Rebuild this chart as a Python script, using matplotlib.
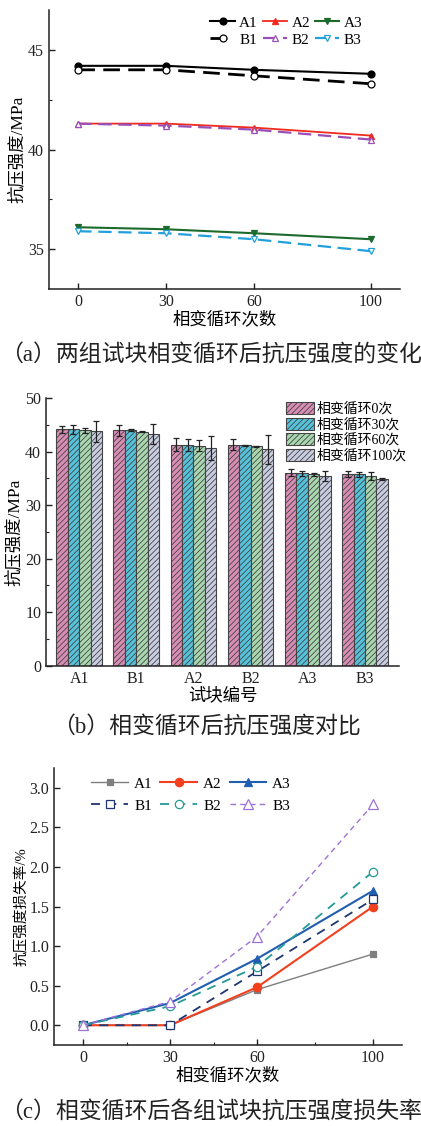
import numpy as np
import matplotlib
matplotlib.use("Agg")
import matplotlib.pyplot as plt
from matplotlib.ticker import MultipleLocator, FixedLocator, FormatStrFormatter

plt.rcParams['font.family'] = ['Liberation Serif', 'Noto Sans CJK SC']
plt.rcParams['axes.unicode_minus'] = False
plt.rcParams['hatch.linewidth'] = 0.6
plt.rcParams['hatch.color'] = '#3a3a3a'

# --- DATA ---
cycles = [0, 30, 60, 100]
groups = ['A1', 'B1', 'A2', 'B2', 'A3', 'B3']

# compressive strength (MPa) after 0/30/60/100 phase-change cycles
strength = {
    'A1': [44.2, 44.2, 44.0, 43.8],
    'B1': [44.0, 44.0, 43.7, 43.3],
    'A2': [41.3, 41.3, 41.1, 40.7],
    'B2': [41.3, 41.2, 41.0, 40.5],
    'A3': [36.1, 36.0, 35.8, 35.5],
    'B3': [35.9, 35.8, 35.5, 34.9],
}
# standard deviation for bar chart
strength_err = {
    'A1': [0.7, 0.85, 0.45, 2.0],
    'B1': [1.0, 0.2, 0.1, 1.8],
    'A2': [1.25, 1.1, 1.05, 2.2],
    'B2': [1.0, 0.1, 0.1, 2.7],
    'A3': [0.7, 0.45, 0.3, 0.95],
    'B3': [0.55, 0.5, 0.75, 0.15],
}
# strength loss rate (%)
loss = {
    'A1': [0.0, 0.0, 0.45, 0.90],
    'A2': [0.0, 0.0, 0.48, 1.50],
    'A3': [0.0, 0.28, 0.84, 1.70],
    'B1': [0.0, 0.0, 0.68, 1.59],
    'B2': [0.0, 0.24, 0.74, 1.94],
    'B3': [0.0, 0.30, 1.12, 2.79],
}
bar_labels = ['相变循环0次', '相变循环30次', '相变循环60次', '相变循环100次']

# legend fills column by column, so interleave A/B to get rows A1 A2 A3 / B1 B2 B3
legend_order = ['A1', 'B1', 'A2', 'B2', 'A3', 'B3']

fig = plt.figure(figsize=(4.21, 11.26), dpi=100)


def style_axes(ax):
    ax.spines['top'].set_visible(False)
    ax.spines['right'].set_visible(False)
    for s in ('left', 'bottom'):
        ax.spines[s].set_linewidth(1.1)
        ax.spines[s].set_color('#222222')
    ax.tick_params(which='both', direction='in', colors='#222222')
    ax.tick_params(which='major', length=4, width=1.0)
    ax.tick_params(which='minor', length=2.5, width=0.8)


# --- (a) strength vs cycles ---
ax1 = fig.add_axes([0.1164, 0.7433, 0.834, 0.2478])
style_a = {
    'A1': dict(color='black', ls='-', marker='o', mfc='black', ms=5, lw=1.5),
    'A2': dict(color='#f02a1e', ls='-', marker='^', mfc='#f02a1e', ms=5, lw=1.3),
    'A3': dict(color='#1d6b2c', ls='-', marker='v', mfc='#1d6b2c', ms=5, lw=1.5),
    'B1': dict(color='black', ls=(0, (6, 3)), marker='o', mfc='white', ms=5, lw=2.0),
    'B2': dict(color='#9a4fb8', ls=(0, (6, 3)), marker='^', mfc='white', ms=5, lw=1.6),
    'B3': dict(color='#22a0db', ls=(0, (6, 3)), marker='v', mfc='white', ms=5, lw=1.6),
}
lines_a = {}
for g in ['A1', 'A2', 'A3', 'B1', 'B2', 'B3']:
    st = style_a[g]
    lines_a[g], = ax1.plot(cycles, strength[g], label=g, mew=0.9,
                           mec=st['color'], **st)
ax1.set_xlim(-10, 110)
ax1.set_ylim(33, 47)
ax1.set_xticks(cycles)
ax1.yaxis.set_major_locator(FixedLocator([35, 40, 45]))
ax1.yaxis.set_minor_locator(FixedLocator([37.5, 42.5]))
style_axes(ax1)
ax1.tick_params(labelsize=11.5)
ax1.set_xlabel('相变循环次数', fontsize=12.5, labelpad=1)
ax1.set_ylabel('抗压强度/MPa', fontsize=12.5)
ax1.yaxis.set_label_coords(-0.066, 0.5)
ax1.legend([lines_a[g] for g in legend_order], legend_order, ncol=3,
           loc='upper right', bbox_to_anchor=(0.91, 1.0), frameon=False,
           fontsize=11, handlelength=1.6, handletextpad=0.3,
           columnspacing=0.3, labelspacing=0.2, borderaxespad=0.0)
fig.text(0.5, 0.6847, '（a）两组试块相变循环后抗压强度的变化', ha='center',
         va='center', fontsize=16.5, color='#222222')

# --- (b) bar comparison ---
ax2 = fig.add_axes([0.1093, 0.4088, 0.839, 0.2375])
bar_colors = ['#d98db5', '#55c3dc', '#a9d8b0', '#c9cde2']
x = np.arange(len(groups))
w = 0.2
for i in range(4):
    vals = [strength[g][i] for g in groups]
    errs = [strength_err[g][i] for g in groups]
    ax2.bar(x + (i - 1.5) * w, vals, w, yerr=errs, color=bar_colors[i],
            edgecolor='#444444', linewidth=0.8, hatch='//////',
            error_kw=dict(ecolor='#222222', elinewidth=0.9, capsize=2.5,
                          capthick=0.9),
            label=bar_labels[i])
ax2.set_xlim(-0.58, 5.6)
ax2.set_ylim(0, 50)
ax2.set_xticks(x)
ax2.set_xticklabels(groups)
ax2.yaxis.set_major_locator(MultipleLocator(10))
ax2.yaxis.set_minor_locator(MultipleLocator(5))
style_axes(ax2)
ax2.tick_params(axis='x', which='major', length=0)
ax2.tick_params(labelsize=11.5)
ax2.set_xlabel('试块编号', fontsize=12.5, labelpad=1)
ax2.set_ylabel('抗压强度/MPa', fontsize=12.5)
ax2.yaxis.set_label_coords(-0.065, 0.5)
ax2.legend(loc='upper left', bbox_to_anchor=(0.68, 0.985), frameon=False,
           fontsize=10, handlelength=2.0, handleheight=0.95,
           handletextpad=0.2, labelspacing=0.12, borderaxespad=0.0,
           borderpad=0.0)
fig.text(0.49, 0.3535, '（b）相变循环后抗压强度对比', ha='center',
         va='center', fontsize=16.5, color='#222222')

# --- (c) loss rate ---
ax3 = fig.add_axes([0.1283, 0.0719, 0.8266, 0.246])
style_c = {
    'A1': dict(color='#7f7f7f', ls='-', marker='s', mfc='#7f7f7f', ms=5, lw=1.0),
    'A2': dict(color='#f2401f', ls='-', marker='o', mfc='#f2401f', ms=6, lw=1.5),
    'A3': dict(color='#1f5eb0', ls='-', marker='^', mfc='#1f5eb0', ms=6, lw=1.5),
    'B1': dict(color='#1f3670', ls=(0, (5, 4)), marker='s', mfc='white', ms=5.5, lw=1.3),
    'B2': dict(color='#239a96', ls=(0, (5, 4)), marker='o', mfc='white', ms=6, lw=1.3),
    'B3': dict(color='#9c72d6', ls=(0, (4, 3)), marker='^', mfc='white', ms=6.5, lw=1.0),
}
lines_c = {}
for g in ['A1', 'A2', 'A3', 'B1', 'B2', 'B3']:
    st = style_c[g]
    lines_c[g], = ax3.plot(cycles, loss[g], label=g, mew=0.9,
                           mec=st['color'], **st)
ax3.set_xlim(-10, 110)
ax3.set_ylim(-0.25, 3.25)
ax3.set_xticks(cycles)
ax3.xaxis.set_minor_locator(FixedLocator([15, 45, 80]))
ax3.yaxis.set_major_locator(MultipleLocator(0.5))
ax3.yaxis.set_major_formatter(FormatStrFormatter('%.1f'))
style_axes(ax3)
ax3.tick_params(labelsize=11.5)
ax3.set_xlabel('相变循环次数', fontsize=12.5, labelpad=1)
ax3.set_ylabel('抗压强度损失率/%', fontsize=10.5)
ax3.yaxis.set_label_coords(-0.072, 0.5)
ax3.legend([lines_c[g] for g in legend_order], legend_order, ncol=3,
           loc='upper left', bbox_to_anchor=(0.09, 0.99), frameon=False,
           fontsize=11, handlelength=2.4, handletextpad=0.4,
           columnspacing=0.5, labelspacing=0.55, borderaxespad=0.0)
fig.text(0.5, 0.0124, '（c）相变循环后各组试块抗压强度损失率', ha='center',
         va='center', fontsize=16.5, color='#222222')

fig.savefig('out.png', dpi=100)
